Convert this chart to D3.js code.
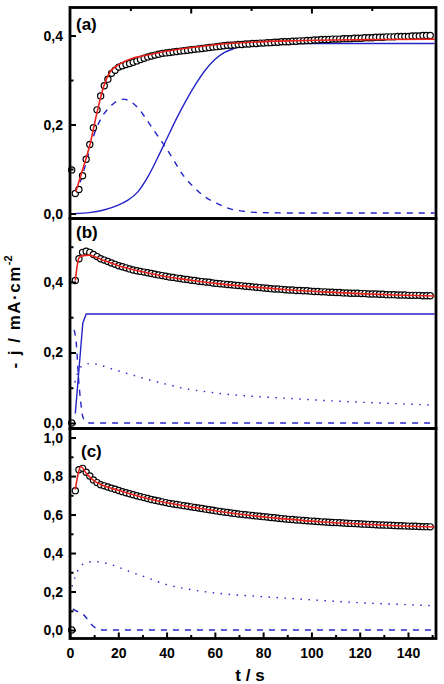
<!DOCTYPE html>
<html>
<head>
<meta charset="utf-8">
<script src="https://cdn.jsdelivr.net/npm/d3@7"></script>
<style>
    body { margin: 0; background: #fff; }
    text { font-family: "Liberation Sans", Arial, sans-serif; font-weight: bold; fill: #000; }
</style>
</head>
<body>
<div id="chart"></div>
<script>
// measured time grid (s), shared by the three data sets
const time = [
    0.7, 2.2, 3.7, 5.2, 6.7, 8.2, 9.7, 11.2, 12.7, 14.2,
    15.7, 17.2, 18.7, 20.2, 21.7, 23.2, 24.7, 26.2, 27.7, 29.2,
    30.7, 32.2, 33.7, 35.2, 36.7, 38.2, 39.7, 41.2, 42.7, 44.2,
    45.7, 47.2, 48.7, 50.2, 51.7, 53.2, 54.7, 56.2, 57.7, 59.2,
    60.7, 62.2, 63.7, 65.2, 66.7, 68.2, 69.7, 71.2, 72.7, 74.2,
    75.7, 77.2, 78.7, 80.2, 81.7, 83.2, 84.7, 86.2, 87.7, 89.2,
    90.7, 92.2, 93.7, 95.2, 96.7, 98.2, 99.7, 101.2, 102.7, 104.2,
    105.7, 107.2, 108.7, 110.2, 111.7, 113.2, 114.7, 116.2, 117.7, 119.2,
    120.7, 122.2, 123.7, 125.2, 126.7, 128.2, 129.7, 131.2, 132.7, 134.2,
    135.7, 137.2, 138.7, 140.2, 141.7, 143.2, 144.7, 146.2, 147.7, 149.2
];

// -j (mA cm^-2), experimental points
const dataA = [
    0.098, 0.045, 0.054, 0.085, 0.122, 0.155, 0.193, 0.233, 0.264, 0.287,
    0.302, 0.315, 0.322, 0.329, 0.332, 0.335, 0.337, 0.340, 0.343, 0.346,
    0.349, 0.352, 0.354, 0.356, 0.358, 0.360, 0.361, 0.362, 0.363, 0.364,
    0.365, 0.366, 0.367, 0.368, 0.369, 0.370, 0.371, 0.372, 0.373, 0.374,
    0.375, 0.376, 0.377, 0.378, 0.378, 0.379, 0.380, 0.380, 0.381, 0.381,
    0.382, 0.382, 0.383, 0.383, 0.384, 0.384, 0.385, 0.385, 0.386, 0.386,
    0.386, 0.387, 0.387, 0.388, 0.388, 0.389, 0.389, 0.390, 0.390, 0.391,
    0.391, 0.391, 0.392, 0.392, 0.392, 0.393, 0.393, 0.393, 0.394, 0.394,
    0.394, 0.395, 0.395, 0.395, 0.396, 0.396, 0.396, 0.397, 0.397, 0.397,
    0.398, 0.398, 0.398, 0.398, 0.399, 0.399, 0.399, 0.400, 0.400, 0.400
];
const dataB = [
    0.000, 0.404, 0.466, 0.484, 0.487, 0.484, 0.478, 0.472, 0.466, 0.462,
    0.458, 0.454, 0.450, 0.446, 0.443, 0.440, 0.437, 0.434, 0.432, 0.430,
    0.428, 0.426, 0.424, 0.422, 0.420, 0.418, 0.416, 0.414, 0.413, 0.411,
    0.410, 0.408, 0.407, 0.405, 0.404, 0.402, 0.401, 0.400, 0.399, 0.397,
    0.396, 0.395, 0.394, 0.393, 0.392, 0.391, 0.390, 0.389, 0.388, 0.387,
    0.386, 0.385, 0.384, 0.383, 0.382, 0.381, 0.380, 0.380, 0.379, 0.378,
    0.377, 0.377, 0.376, 0.376, 0.375, 0.375, 0.374, 0.373, 0.373, 0.372,
    0.372, 0.371, 0.371, 0.370, 0.370, 0.369, 0.369, 0.368, 0.368, 0.368,
    0.367, 0.367, 0.366, 0.366, 0.366, 0.365, 0.365, 0.364, 0.364, 0.364,
    0.363, 0.363, 0.363, 0.362, 0.362, 0.362, 0.362, 0.361, 0.361, 0.361
];
const dataC = [
    0.000, 0.724, 0.833, 0.840, 0.820, 0.800, 0.780, 0.766, 0.755, 0.749,
    0.743, 0.737, 0.731, 0.725, 0.719, 0.713, 0.708, 0.703, 0.698, 0.693,
    0.688, 0.683, 0.678, 0.674, 0.670, 0.666, 0.662, 0.658, 0.655, 0.652,
    0.649, 0.646, 0.643, 0.640, 0.637, 0.634, 0.631, 0.628, 0.625, 0.622,
    0.619, 0.616, 0.613, 0.611, 0.608, 0.606, 0.603, 0.601, 0.599, 0.597,
    0.595, 0.593, 0.591, 0.589, 0.587, 0.585, 0.583, 0.581, 0.579, 0.577,
    0.575, 0.574, 0.572, 0.571, 0.569, 0.568, 0.566, 0.565, 0.564, 0.562,
    0.561, 0.560, 0.559, 0.558, 0.557, 0.556, 0.555, 0.554, 0.553, 0.552,
    0.551, 0.550, 0.549, 0.548, 0.547, 0.546, 0.546, 0.545, 0.544, 0.543,
    0.542, 0.542, 0.541, 0.540, 0.539, 0.539, 0.538, 0.537, 0.537, 0.536
];

// model curves, panel (a)
const fitTimeA = [2.4, 5.6, 8.4, 11.1, 13.9, 16.6, 19.4, 22, 26, 30, 37, 45, 55, 63, 75, 90, 110, 130, 151];
const fitA = [0.049, 0.105, 0.158, 0.225, 0.285, 0.318, 0.332, 0.340, 0.349, 0.354, 0.362, 0.369, 0.376, 0.381, 0.385, 0.388, 0.390, 0.391, 0.392];
const solidTimeA = [2.4, 8, 14, 20, 24, 28, 32, 36, 40, 44, 48, 52, 56, 60, 64, 68, 72, 78, 90, 151];
const solidA = [0.000, 0.002, 0.008, 0.019, 0.030, 0.048, 0.080, 0.122, 0.167, 0.212, 0.253, 0.290, 0.322, 0.346, 0.362, 0.371, 0.377, 0.380, 0.382, 0.382];
const dashTimeA = [2.4, 4.5, 7, 9.7, 12.5, 16.6, 20, 22.2, 25, 27.7, 31, 34.6, 38.7, 41.5, 47, 52.5, 56, 60.8, 66, 71.8, 80, 100, 151];
const dashA = [0.045, 0.075, 0.120, 0.173, 0.210, 0.240, 0.254, 0.257, 0.252, 0.240, 0.217, 0.188, 0.156, 0.133, 0.085, 0.053, 0.037, 0.023, 0.011, 0.005, 0.002, 0.001, 0.001];

// model curves, panel (b)
const fitTimeB = [2.2, 3.7, 5, 8, 10, 13, 20, 30, 40, 50, 63, 75, 90, 105, 120, 135, 151];
const fitB = [0.404, 0.468, 0.474, 0.476, 0.472, 0.464, 0.446, 0.429, 0.415, 0.405, 0.394, 0.386, 0.378, 0.372, 0.367, 0.363, 0.360];
const solidTimeB = [2.2, 5.3, 6.7, 151];
const solidB = [0.027, 0.283, 0.309, 0.309];
const dashTimeB = [1.7, 2.6, 3.5, 4.5, 5.3, 6.7, 8, 151];
const dashB = [0.264, 0.226, 0.130, 0.056, 0.018, 0.002, 0, 0];
const dotTimeB = [2, 4, 6, 9, 13, 18, 25, 32, 40, 48, 56, 63, 75, 90, 105, 120, 135, 149];
const dotB = [0.115, 0.155, 0.165, 0.169, 0.163, 0.152, 0.138, 0.124, 0.110, 0.097, 0.089, 0.083, 0.076, 0.070, 0.064, 0.059, 0.055, 0.051];

// model curves, panel (c)
const fitTimeC = [2.2, 4.5, 7, 10, 13, 20, 30, 40, 50, 62, 75, 90, 105, 120, 135, 151];
const fitC = [0.729, 0.848, 0.810, 0.775, 0.755, 0.726, 0.690, 0.661, 0.640, 0.616, 0.595, 0.576, 0.561, 0.551, 0.542, 0.535];
const dotTimeC = [0.8, 2.2, 4.2, 7, 9.7, 13, 16.6, 21, 26, 31, 40, 50, 62, 75, 90, 105, 118, 135, 149];
const dotC = [0.226, 0.278, 0.330, 0.350, 0.356, 0.352, 0.342, 0.322, 0.298, 0.276, 0.236, 0.210, 0.190, 0.177, 0.165, 0.153, 0.143, 0.134, 0.127];
const dashTimeC = [1.2, 2.5, 4, 5.6, 7.5, 9.1, 11, 12.5, 151];
const dashC = [0.110, 0.100, 0.092, 0.080, 0.052, 0.026, 0.008, 0, 0];

// axis ticks
const xMajor = [0, 20, 40, 60, 80, 100, 120, 140];
const xMinor = [10, 30, 50, 70, 90, 110, 130, 150];
const topMajor = [50, 100];
const topMinor = [25, 75, 125];

const zip = (ts, vs) => ts.map((t, i) => ({t: t, v: vs[i]}));

const W = 444, H = 684;
const RED = '#e8211b', BLUE = '#2424c8';

const panels = [
    {
        label: '(a)', labelX: 76, labelY: 30,
        top: 7.5, bottom: 218.5, domain: [-0.0112, 0.463],
        major: [0, 0.2, 0.4], minor: [0.1, 0.3],
        points: zip(time, dataA),
        lines: [
            {pts: zip(solidTimeA, solidA), color: BLUE, dash: null},
            {pts: zip(dashTimeA, dashA), color: BLUE, dash: '6,6'}
        ],
        fit: zip(fitTimeA, fitA)
    },
    {
        label: '(b)', labelX: 76, labelY: 238,
        top: 218.5, bottom: 428.5, domain: [-0.0156, 0.580],
        major: [0, 0.2, 0.4], minor: [0.1, 0.3, 0.5],
        points: zip(time, dataB),
        lines: [
            {pts: zip(solidTimeB, solidB), color: BLUE, dash: null, linear: true},
            {pts: zip(dashTimeB, dashB), color: BLUE, dash: '6,6'},
            {pts: zip(dotTimeB, dotB), color: BLUE, dash: '1.5,6.5'}
        ],
        fit: zip(fitTimeB, fitB)
    },
    {
        label: '(c)', labelX: 81, labelY: 457,
        top: 428.5, bottom: 638.5, domain: [-0.044, 1.047],
        major: [0, 0.2, 0.4, 0.6, 0.8, 1.0], minor: [0.1, 0.3, 0.5, 0.7, 0.9],
        points: zip(time, dataC),
        lines: [
            {pts: zip(dashTimeC, dashC), color: BLUE, dash: '6,6'},
            {pts: zip(dotTimeC, dotC), color: BLUE, dash: '1.5,6.5'}
        ],
        fit: zip(fitTimeC, fitC)
    }
];

const svg = d3.select('#chart').append('svg')
    .attr('width', W)
    .attr('height', H);

const x = d3.scaleLinear().domain([0, 151.6]).range([70, 436]);
const commaFmt = d => d3.format('.1f')(d).replace('.', ',');

panels.forEach((p, pi) => {
    const y = d3.scaleLinear().domain(p.domain).range([p.bottom, p.top]);
    const g = svg.append('g');

    // model curves (blue)
    p.lines.forEach(l => {
        const line = d3.line()
            .x(d => x(d.t))
            .y(d => y(d.v))
            .curve(l.linear ? d3.curveLinear : d3.curveMonotoneX);
        g.append('path')
            .datum(l.pts)
            .attr('d', line)
            .attr('fill', 'none')
            .attr('stroke', l.color)
            .attr('stroke-width', 1.4)
            .attr('stroke-dasharray', l.dash);
    });

    // data points
    g.selectAll('.pt')
        .data(p.points)
        .join('circle')
        .attr('class', 'pt')
        .attr('cx', d => x(d.t))
        .attr('cy', d => y(d.v))
        .attr('r', 3.1)
        .attr('fill', '#fff')
        .attr('stroke', '#000')
        .attr('stroke-width', 1.2);

    // total fit (red), over the points
    g.append('path')
        .datum(p.fit)
        .attr('d', d3.line().x(d => x(d.t)).y(d => y(d.v)).curve(d3.curveMonotoneX))
        .attr('fill', 'none')
        .attr('stroke', RED)
        .attr('stroke-width', 1.6);

    // frame
    g.append('rect')
        .attr('x', x.range()[0])
        .attr('y', p.top)
        .attr('width', x.range()[1] - x.range()[0])
        .attr('height', p.bottom - p.top)
        .attr('fill', 'none')
        .attr('stroke', '#000')
        .attr('stroke-width', 2.8);

    // y axis, ticks pointing inward
    const yAxisG = g.append('g')
        .attr('transform', `translate(${x.range()[0]},0)`)
        .call(d3.axisLeft(y).tickValues(p.major).tickSize(-6).tickPadding(7).tickFormat(commaFmt))
        .call(a => a.select('.domain').remove());
    yAxisG.selectAll('line').attr('stroke-width', 2);
    yAxisG.selectAll('text').attr('font-size', 14).style('font-family', null);

    g.append('g')
        .attr('transform', `translate(${x.range()[0]},0)`)
        .call(d3.axisLeft(y).tickValues(p.minor).tickSize(-3.5).tickFormat(''))
        .call(a => a.select('.domain').remove())
        .selectAll('line').attr('stroke-width', 2);

    if (pi === 0) {
        // top axis of (a) uses its own spacing
        g.append('g')
            .attr('transform', `translate(0,${p.top})`)
            .call(d3.axisTop(x).tickValues(topMajor).tickSize(-6).tickFormat(''))
            .call(a => a.select('.domain').remove())
            .selectAll('line').attr('stroke-width', 2);
        g.append('g')
            .attr('transform', `translate(0,${p.top})`)
            .call(d3.axisTop(x).tickValues(topMinor).tickSize(-3.5).tickFormat(''))
            .call(a => a.select('.domain').remove())
            .selectAll('line').attr('stroke-width', 2);
    }

    if (pi === panels.length - 1) {
        const xAxisG = g.append('g')
            .attr('transform', `translate(0,${p.bottom})`)
            .call(d3.axisBottom(x).tickValues(xMajor).tickSize(-6).tickPadding(10).tickFormat(d3.format('d')))
            .call(a => a.select('.domain').remove());
        xAxisG.selectAll('line').attr('stroke-width', 2);
        xAxisG.selectAll('text').attr('font-size', 14).style('font-family', null);

        g.append('g')
            .attr('transform', `translate(0,${p.bottom})`)
            .call(d3.axisBottom(x).tickValues(xMinor).tickSize(-3.5).tickFormat(''))
            .call(a => a.select('.domain').remove())
            .selectAll('line').attr('stroke-width', 2);
    }

    // panel label
    g.append('text')
        .attr('x', p.labelX)
        .attr('y', p.labelY)
        .attr('font-size', 17)
        .text(p.label);
});

// axis titles
svg.append('text')
    .attr('x', 250)
    .attr('y', 681)
    .attr('text-anchor', 'middle')
    .attr('font-size', 17)
    .text('t / s');

const yTitle = svg.append('text')
    .attr('transform', 'translate(19.5,312) rotate(-90)')
    .attr('text-anchor', 'middle')
    .attr('font-size', 17)
    .attr('letter-spacing', 1.5);
yTitle.append('tspan').text('- j / mA·cm');
yTitle.append('tspan')
    .attr('dy', -8)
    .attr('font-size', 11)
    .attr('letter-spacing', 0)
    .text('-2');
</script>
</body>
</html>
